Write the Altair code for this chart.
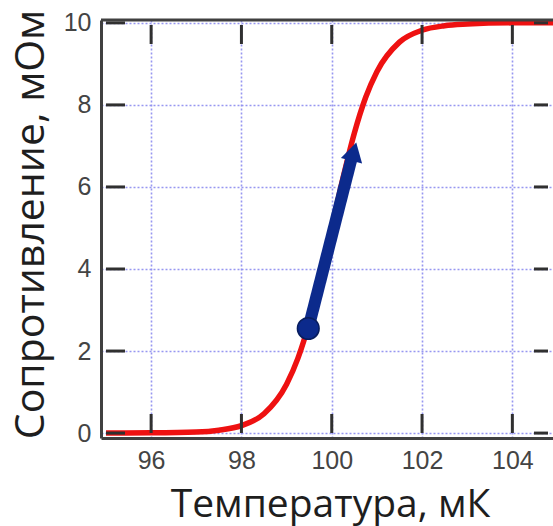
import altair as alt
import pandas as pd

# Curve
temp = [95, 96, 97, 97.5, 98, 98.5, 99, 99.25, 99.5, 99.75, 100, 100.25,
        100.5, 100.75, 101, 101.5, 102, 102.5, 103, 104, 105]
resist = [0.0, 0.005, 0.025, 0.07, 0.18, 0.47, 1.19, 1.82, 2.69, 3.78, 5.0,
          6.22, 7.31, 8.18, 8.81, 9.53, 9.82, 9.93, 9.97, 10.0, 10.0]

# Arrow
arrow_x = [99.48, 100.44]
arrow_y = [2.55, 6.7]
head_x = [100.49]
head_y = [6.86]

x_ticks = [96, 98, 100, 102, 104]
y_ticks = [0, 2, 4, 6, 8, 10]

W, H = 452, 418
XEDGE = [94.89, 104.9]   # values at the plot edges
YEDGE = [-0.12, 10.07]
PADPX = 5                 # Vega-Lite's default continuous padding with bar marks

KX = (XEDGE[1] - XEDGE[0]) / W
KY = (YEDGE[1] - YEDGE[0]) / H
xs = alt.Scale(domain=[XEDGE[0] + PADPX * KX, XEDGE[1] - PADPX * KX],
               nice=False, zero=False)
ys = alt.Scale(domain=[YEDGE[0] + PADPX * KY, YEDGE[1] - PADPX * KY],
               nice=False, zero=False)

curve_df = pd.DataFrame({"t": temp, "r": resist})
arrow_df = pd.DataFrame({"t": arrow_x, "r": arrow_y})
dot_df = pd.DataFrame({"t": arrow_x[:1], "r": arrow_y[:1]})
head_df = pd.DataFrame({"t": head_x, "r": head_y})

# inward tick segments (pixel lengths converted to data units)
bottom_df = pd.DataFrame({"t": x_ticks, "a": YEDGE[0] + 5 * KY, "b": YEDGE[0] + 24 * KY})
top_df = pd.DataFrame({"t": x_ticks, "a": YEDGE[1] - 24 * KY, "b": YEDGE[1] - 5 * KY})
left_df = pd.DataFrame({"r": y_ticks, "a": XEDGE[0] + 5 * KX, "b": XEDGE[0] + 24 * KX})
right_df = pd.DataFrame({"r": y_ticks, "a": XEDGE[1] - 19 * KX, "b": XEDGE[1] - 5 * KX})
border_df = pd.DataFrame({"a": [XEDGE[0]], "b": [XEDGE[1]], "r": [YEDGE[1]]})

GRID = dict(grid=True, gridColor="#8c8cf0", gridDash=[2, 2], gridWidth=1.6,
            gridOpacity=0.9)

x_axis = alt.Axis(values=x_ticks, title="Температура, мК", ticks=False, tickSize=0,
                  domainColor="#404040", domainWidth=3,
                  labelFont="Liberation Sans", labelFontSize=25, labelColor="#444444",
                  labelPadding=10,
                  titleFont="Open Sans", titleFontSize=39, titleFontWeight="normal",
                  titleColor="#1e1e1e", titleX=229, titleY=78,
                  titleBaseline="alphabetic", titleAlign="center", **GRID)
y_axis = alt.Axis(values=y_ticks, title="Сопротивление, мОм", ticks=False, tickSize=0,
                  domainColor="#404040", domainWidth=3,
                  labelFont="Liberation Sans", labelFontSize=25, labelColor="#444444",
                  labelPadding=10,
                  titleFont="Open Sans", titleFontSize=41, titleFontWeight="normal",
                  titleColor="#1e1e1e", titleX=-58, titleY=204, titleAngle=270,
                  titleBaseline="alphabetic", titleAlign="center", **GRID)

curve = alt.Chart(curve_df).mark_line(color="#ee1111", strokeWidth=5.5,
                                      interpolate="monotone", clip=True).encode(
    x=alt.X("t:Q", scale=xs, axis=x_axis),
    y=alt.Y("r:Q", scale=ys, axis=y_axis),
)

BAR = dict(color="#303030", opacity=1)
bottom_ticks = alt.Chart(bottom_df).mark_bar(width=3, **BAR).encode(
    x=alt.X("t:Q", scale=xs), y=alt.Y("a:Q", scale=ys), y2="b:Q")
top_ticks = alt.Chart(top_df).mark_bar(width=3, **BAR).encode(
    x=alt.X("t:Q", scale=xs), y=alt.Y("a:Q", scale=ys), y2="b:Q")
left_ticks = alt.Chart(left_df).mark_bar(height=3, orient="horizontal", **BAR).encode(
    y=alt.Y("r:Q", scale=ys), x=alt.X("a:Q", scale=xs), x2="b:Q")
right_ticks = alt.Chart(right_df).mark_bar(height=3, orient="horizontal", **BAR).encode(
    y=alt.Y("r:Q", scale=ys), x=alt.X("a:Q", scale=xs), x2="b:Q")
top_border = alt.Chart(border_df).mark_bar(height=3, orient="horizontal",
                                           color="#404040", opacity=1).encode(
    y=alt.Y("r:Q", scale=ys), x=alt.X("a:Q", scale=xs), x2="b:Q")

arrow = alt.Chart(arrow_df).mark_line(color="#0c2a8c", strokeWidth=12).encode(
    x=alt.X("t:Q", scale=xs), y=alt.Y("r:Q", scale=ys))
head = alt.Chart(head_df).mark_point(shape="triangle-up", filled=True, size=480,
                                     angle=14.5, color="#0c2a8c", opacity=1).encode(
    x=alt.X("t:Q", scale=xs), y=alt.Y("r:Q", scale=ys))
dot = alt.Chart(dot_df).mark_point(shape="circle", filled=True, size=470,
                                   color="#0c2a8c", opacity=1,
                                   stroke="#081d5e", strokeWidth=1.5).encode(
    x=alt.X("t:Q", scale=xs), y=alt.Y("r:Q", scale=ys))

chart = alt.layer(curve, bottom_ticks, top_ticks, left_ticks, right_ticks,
                  top_border, arrow, head, dot).properties(
    width=W, height=H,
    autosize=alt.AutoSizeParams(type="none"),
    padding={"left": 101, "top": 20, "right": 0, "bottom": 88},
    background="white",
).configure_view(stroke=None)

chart.save("out.html", embed_options={"renderer": "svg", "actions": False})
